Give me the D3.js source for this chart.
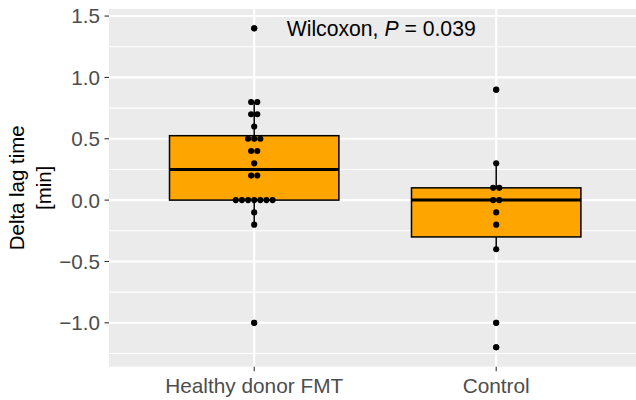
<!DOCTYPE html>
<html>
<head>
<meta charset="UTF-8">
<script src="https://d3js.org/d3.v7.min.js"></script>
<style>
  body { margin: 0; background: #fff; }
  text { font-family: "Liberation Sans", Arial, Helvetica, sans-serif; }
</style>
</head>
<body>
<svg id="chart" width="636" height="400"></svg>
<script>
const groups = ["Healthy donor FMT", "Control"];
const fmtValues = [1.4, 0.8, 0.8, 0.7, 0.7, 0.6, 0.5, 0.5, 0.5, 0.4, 0.4, 0.3,
                   0.2, 0.2, 0, 0, 0, 0, 0, 0, 0, -0.1, -0.2, -1.0];
const controlValues = [0.9, 0.3, 0.1, 0.1, 0, 0, -0.1, -0.2, -0.4, -1.0, -1.2];
const yTicks = [-1.0, -0.5, 0.0, 0.5, 1.0, 1.5];
const yMinor = [-1.25, -0.75, -0.25, 0.25, 0.75, 1.25];
const annotationLabel = ["Wilcoxon, ", "P", " = 0.039"];

const series = [fmtValues, controlValues];
const binwidth = 0.05;

const W = 636, H = 400;
const panel = { left: 109, top: 9, right: 636, bottom: 366.7 };
const unit = 242; // px between categories

const svg = d3.select("#chart");

// escalas
const allVals = series.flat();
const lo = d3.min(allVals) - binwidth / 2;
const hi = d3.max(allVals) + binwidth / 2;
const pad = (hi - lo) * 0.05;
const y = d3.scaleLinear().domain([lo - pad, hi + pad]).range([panel.bottom, panel.top]);
const x = d3.scaleLinear().domain([0.4, 2.6]).range([panel.left, panel.left + 2.2 * unit]);

// panel background
svg.append("rect")
  .attr("x", panel.left).attr("y", panel.top)
  .attr("width", panel.right - panel.left).attr("height", panel.bottom - panel.top)
  .attr("fill", "#EBEBEB");

const grid = svg.append("g");
grid.selectAll(".minor").data(yMinor).join("line")
  .attr("x1", panel.left).attr("x2", panel.right)
  .attr("y1", d => y(d)).attr("y2", d => y(d))
  .attr("stroke", "#fff").attr("stroke-width", 1.1);
grid.selectAll(".major").data(yTicks).join("line")
  .attr("x1", panel.left).attr("x2", panel.right)
  .attr("y1", d => y(d)).attr("y2", d => y(d))
  .attr("stroke", "#fff").attr("stroke-width", 2.1);
grid.selectAll(".vmajor").data(groups).join("line")
  .attr("x1", (d, i) => x(i + 1)).attr("x2", (d, i) => x(i + 1))
  .attr("y1", panel.top).attr("y2", panel.bottom)
  .attr("stroke", "#fff").attr("stroke-width", 2.1);

// boxplot stats (tipo R-7, como ggplot)
function stats(vals) {
  const s = vals.slice().sort(d3.ascending);
  const q1 = d3.quantile(s, 0.25), med = d3.quantile(s, 0.5), q3 = d3.quantile(s, 0.75);
  const iqr = q3 - q1;
  const inside = s.filter(v => v >= q1 - 1.5 * iqr && v <= q3 + 1.5 * iqr);
  return { q1, med, q3, lowW: d3.min(inside), highW: d3.max(inside),
           outliers: s.filter(v => v < q1 - 1.5 * iqr || v > q3 + 1.5 * iqr) };
}

const boxHalf = 0.35 * unit;
const boxes = svg.append("g");
series.forEach((vals, i) => {
  const st = stats(vals);
  const cx = x(i + 1);
  const g = boxes.append("g");
  g.append("line").attr("x1", cx).attr("x2", cx)
    .attr("y1", y(st.q3)).attr("y2", y(st.highW))
    .attr("stroke", "#000").attr("stroke-width", 1.5);
  g.append("line").attr("x1", cx).attr("x2", cx)
    .attr("y1", y(st.q1)).attr("y2", y(st.lowW))
    .attr("stroke", "#000").attr("stroke-width", 1.5);
  g.append("rect")
    .attr("x", cx - boxHalf).attr("width", 2 * boxHalf)
    .attr("y", y(st.q3)).attr("height", y(st.q1) - y(st.q3))
    .attr("fill", "#FFA500").attr("stroke", "#000").attr("stroke-width", 1.5);
  g.append("line").attr("x1", cx - boxHalf).attr("x2", cx + boxHalf)
    .attr("y1", y(st.med)).attr("y2", y(st.med))
    .attr("stroke", "#000").attr("stroke-width", 3);
  g.selectAll("circle").data(st.outliers).join("circle")
    .attr("cx", cx).attr("cy", d => y(d)).attr("r", 3).attr("fill", "#000");
});

// dotplot centrado
const dotD = y(0) - y(binwidth);
const dots = svg.append("g");
series.forEach((vals, i) => {
  const bins = d3.rollups(vals, v => v.length, v => v);
  bins.forEach(([val, n]) => {
    d3.range(n).forEach(k => {
      dots.append("circle")
        .attr("cx", x(i + 1) + (k - (n - 1) / 2) * dotD)
        .attr("cy", y(val))
        .attr("r", dotD / 2)
        .attr("fill", "#000");
    });
  });
});

// annotation
const ann = svg.append("text")
  .attr("x", x(1.5) + 6).attr("y", y(1.4))
  .attr("dy", "0.35em")
  .attr("text-anchor", "middle")
  .attr("font-size", 21.2).attr("fill", "#000");
annotationLabel.forEach((t, i) => {
  ann.append("tspan").attr("font-style", i === 1 ? "italic" : "normal")
    .attr("xml:space", "preserve").text(t);
});
ann.style("white-space", "pre");

// y axis
const yAxis = svg.append("g");
yAxis.selectAll("line").data(yTicks).join("line")
  .attr("x1", panel.left - 4.5).attr("x2", panel.left)
  .attr("y1", d => y(d)).attr("y2", d => y(d))
  .attr("stroke", "#333").attr("stroke-width", 1.1);
yAxis.selectAll("text").data(yTicks).join("text")
  .attr("x", panel.left - 9).attr("y", d => y(d))
  .attr("dy", "0.36em").attr("text-anchor", "end")
  .attr("font-size", 20.6).attr("fill", "#4D4D4D")
  .text(d => d3.format(".1f")(d).replace("-", "\u2212"));

// x axis
const xAxis = svg.append("g");
xAxis.selectAll("line").data(groups).join("line")
  .attr("x1", (d, i) => x(i + 1)).attr("x2", (d, i) => x(i + 1))
  .attr("y1", panel.bottom).attr("y2", panel.bottom + 4.5)
  .attr("stroke", "#333").attr("stroke-width", 1.1);
xAxis.selectAll("text").data(groups).join("text")
  .attr("x", (d, i) => x(i + 1)).attr("y", 393)
  .attr("text-anchor", "middle")
  .attr("font-size", 20.8).attr("fill", "#4D4D4D")
  .text(d => d);

// y title
const yTitle = svg.append("text")
  .attr("transform", `translate(0,${(panel.top + panel.bottom) / 2}) rotate(-90)`)
  .attr("text-anchor", "middle").attr("font-size", 20.4).attr("fill", "#000");
yTitle.append("tspan").attr("x", 0).attr("y", 24).text("Delta lag time");
yTitle.append("tspan").attr("x", 0).attr("y", 51).text("[min]");
</script>
</body>
</html>
